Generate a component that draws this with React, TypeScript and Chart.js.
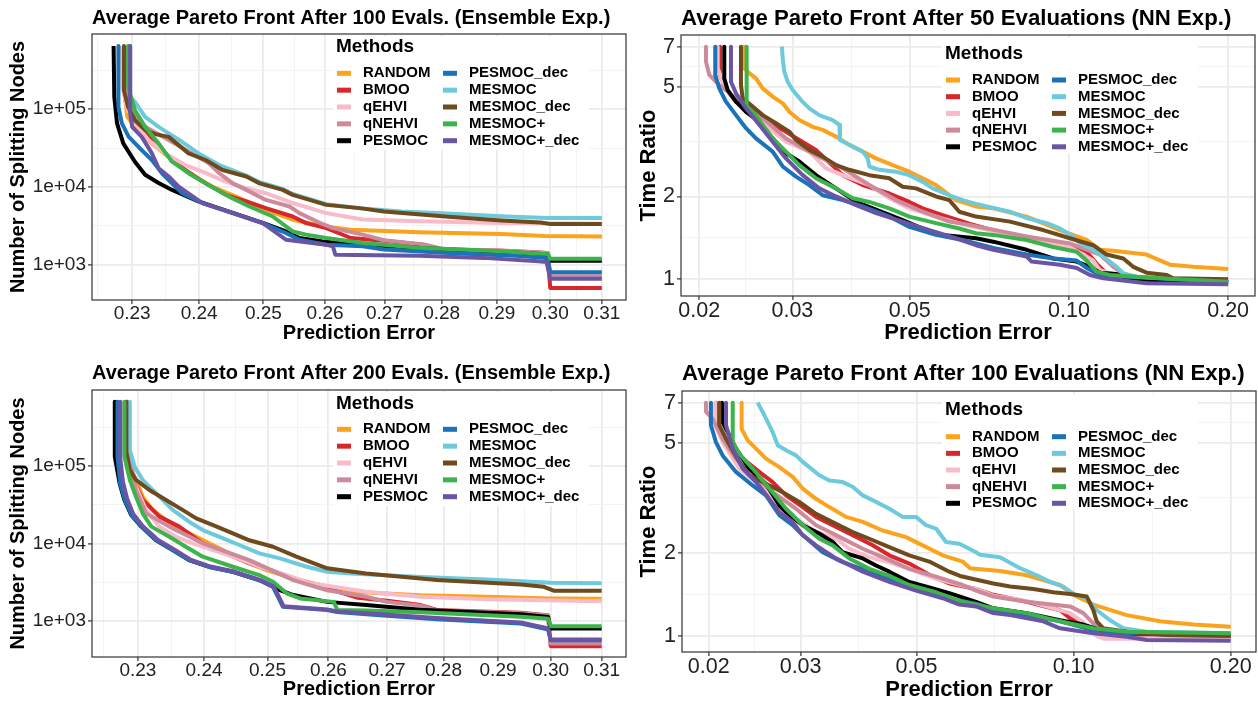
import React, { useEffect, useRef } from "react";
import { Chart, registerables } from "chart.js";

Chart.register(...registerables);

type Pt = [number, number];

const FONT = '"Liberation Sans", Arial, Helvetica, sans-serif';

const methods = ["RANDOM", "BMOO", "qEHVI", "qNEHVI", "PESMOC", "PESMOC_dec", "MESMOC", "MESMOC_dec", "MESMOC+", "MESMOC+_dec"];
const methodColors = ["#FBA31C", "#D7262C", "#F8BBC9", "#CC8A9B", "#000000", "#1A72B8", "#6DCADC", "#6E4A1C", "#3CB44B", "#6A55A5"];

// ---------- Ensemble, 100 evaluations ----------
const ens100RANDOM: Pt[] = [[0.2288,650000],[0.2289,150000],[0.2293,79600],[0.2309,51200],[0.2329,36300],[0.2354,24400],[0.2384,15000],[0.2420,10100],[0.2457,7500],[0.2504,5070],[0.2547,3780],[0.2600,3100],[0.2643,2800],[0.2760,2600],[0.2908,2480],[0.2990,2330],[0.3100,2300]];
const ens100BMOO: Pt[] = [[0.2289,650000],[0.2290,130000],[0.2304,72200],[0.2319,53800],[0.2329,40100],[0.2349,27000],[0.2379,16500],[0.2410,11100],[0.2441,7900],[0.2473,6500],[0.2504,5330],[0.2547,4160],[0.2569,3420],[0.2602,2950],[0.2643,2200],[0.2699,2030],[0.2768,1800],[0.2804,1560],[0.2908,1510],[0.2977,1430],[0.2995,1400],[0.3000,500],[0.3100,500]];
const ens100qEHVI: Pt[] = [[0.2285,650000],[0.2286,193000],[0.2292,107000],[0.2304,65600],[0.2324,40100],[0.2349,27000],[0.2379,19100],[0.2405,15700],[0.2441,11700],[0.2473,9600],[0.2504,8300],[0.2547,6200],[0.2602,4600],[0.2663,3800],[0.2760,3600],[0.2908,3420],[0.3100,3350]];
const ens100qNEHVI: Pt[] = [[0.2290,650000],[0.2291,160000],[0.2300,90000],[0.2319,59300],[0.2354,40100],[0.2389,27000],[0.2415,20100],[0.2431,15000],[0.2452,11100],[0.2473,9150],[0.2504,6800],[0.2542,5590],[0.2558,4600],[0.2591,3450],[0.2613,2950],[0.2663,2430],[0.2699,2060],[0.2768,1820],[0.2804,1580],[0.2908,1520],[0.2977,1440],[0.2995,1410],[0.3000,708],[0.3100,708]];
const ens100PESMOC: Pt[] = [[0.2273,650000],[0.2274,144000],[0.2278,65600],[0.2287,36300],[0.2304,21100],[0.2319,14300],[0.2339,11250],[0.2359,9150],[0.2399,6500],[0.2452,4640],[0.2499,3450],[0.2536,2670],[0.2558,2200],[0.2596,1990],[0.2663,1800],[0.2812,1560],[0.2960,1400],[0.2995,1340],[0.3000,1120],[0.3100,1120]];
const ens100PESMOCdec: Pt[] = [[0.2280,650000],[0.2280,107000],[0.2285,65600],[0.2295,44100],[0.2314,29800],[0.2329,22200],[0.2344,15000],[0.2359,11100],[0.2374,8300],[0.2405,6200],[0.2452,4600],[0.2499,3420],[0.2536,2550],[0.2558,2090],[0.2602,1800],[0.2663,1720],[0.2699,1560],[0.2812,1410],[0.2935,1300],[0.2988,1220],[0.2995,1200],[0.3000,796],[0.3100,796]];
const ens100MESMOC: Pt[] = [[0.2297,650000],[0.2297,144000],[0.2304,124000],[0.2319,79600],[0.2339,59300],[0.2354,48800],[0.2374,38100],[0.2399,27000],[0.2431,19100],[0.2473,14000],[0.2494,11500],[0.2531,9400],[0.2547,8100],[0.2602,6000],[0.2658,5300],[0.2729,4820],[0.2790,4600],[0.2908,4200],[0.2995,3970],[0.3100,3970]];
const ens100MESMOCdec: Pt[] = [[0.2288,650000],[0.2288,175000],[0.2294,107000],[0.2304,72200],[0.2319,53800],[0.2334,47800],[0.2354,44100],[0.2369,34500],[0.2384,27000],[0.2410,22200],[0.2436,16500],[0.2473,13600],[0.2494,11100],[0.2531,9150],[0.2547,7900],[0.2602,5870],[0.2658,5330],[0.2699,4820],[0.2812,4120],[0.2908,3700],[0.2982,3490],[0.3001,3320],[0.3100,3320]];
const ens100MESMOCplus: Pt[] = [[0.2294,650000],[0.2294,193000],[0.2304,97000],[0.2319,59300],[0.2339,36300],[0.2359,21100],[0.2384,15000],[0.2410,11100],[0.2446,7500],[0.2478,5590],[0.2515,4160],[0.2547,2670],[0.2569,2430],[0.2602,2200],[0.2663,1900],[0.2760,1650],[0.2908,1480],[0.2982,1380],[0.2996,1370],[0.3000,1190],[0.3100,1190]];
const ens100MESMOCplusdec: Pt[] = [[0.2297,650000],[0.2297,88900],[0.2300,59300],[0.2314,44100],[0.2329,27000],[0.2339,17400],[0.2354,13600],[0.2369,10100],[0.2405,6200],[0.2452,4600],[0.2499,3420],[0.2536,2090],[0.2602,1800],[0.2613,1720],[0.2617,1340],[0.2760,1300],[0.2876,1220],[0.2977,1100],[0.2993,1080],[0.3000,655],[0.3100,655]];

// ---------- Ensemble, 200 evaluations ----------
const ens200RANDOM: Pt[] = [[0.2283,670000],[0.2283,140000],[0.2293,80500],[0.2307,40200],[0.2322,27100],[0.2342,20100],[0.2367,14900],[0.2393,11700],[0.2419,9090],[0.2445,7100],[0.2471,5550],[0.2498,4550],[0.2542,3560],[0.2598,2770],[0.2638,2390],[0.2759,2150],[0.2879,2060],[0.3000,1960],[0.3100,1940]];
const ens200BMOO: Pt[] = [[0.2283,670000],[0.2283,130000],[0.2293,66000],[0.2307,36400],[0.2332,22200],[0.2362,16500],[0.2398,10060],[0.2434,7470],[0.2471,5550],[0.2498,4790],[0.2542,3560],[0.2598,2640],[0.2650,2000],[0.2700,1830],[0.2759,1610],[0.2788,1390],[0.2943,1280],[0.2987,1200],[0.2995,1190],[0.3000,476],[0.3100,476]];
const ens200qEHVI: Pt[] = [[0.2285,670000],[0.2285,150000],[0.2297,54100],[0.2312,27100],[0.2332,16500],[0.2357,12200],[0.2383,10060],[0.2414,8240],[0.2445,6760],[0.2487,5020],[0.2531,3920],[0.2570,3070],[0.2664,2390],[0.2759,2060],[0.2879,1910],[0.3100,1810]];
const ens200qNEHVI: Pt[] = [[0.2285,670000],[0.2285,140000],[0.2290,100000],[0.2297,49000],[0.2312,24500],[0.2347,16500],[0.2398,10060],[0.2471,6120],[0.2542,3380],[0.2598,2500],[0.2664,2060],[0.2700,1770],[0.2759,1580],[0.2788,1370],[0.2943,1260],[0.2987,1190],[0.2995,1180],[0.3000,516],[0.3100,516]];
const ens200PESMOC: Pt[] = [[0.2266,670000],[0.2266,132000],[0.2273,59800],[0.2280,36400],[0.2290,23300],[0.2305,16500],[0.2327,11000],[0.2352,8240],[0.2377,6120],[0.2408,5020],[0.2445,4330],[0.2487,3380],[0.2509,2770],[0.2520,2500],[0.2542,2170],[0.2598,1770],[0.2664,1610],[0.2759,1400],[0.2943,1230],[0.2990,1140],[0.2995,1130],[0.3000,805],[0.3100,805]];
const ens200PESMOCdec: Pt[] = [[0.2270,670000],[0.2270,130000],[0.2274,59000],[0.2281,36000],[0.2291,23000],[0.2306,16300],[0.2328,10900],[0.2353,8150],[0.2378,6050],[0.2409,4950],[0.2446,4280],[0.2488,3340],[0.2509,2770],[0.2517,2060],[0.2525,1530],[0.2598,1390],[0.2615,1310],[0.2664,1230],[0.2788,1060],[0.2943,934],[0.2987,805],[0.2995,780],[0.3000,569],[0.3100,569]];
const ens200MESMOC: Pt[] = [[0.2288,670000],[0.2288,161000],[0.2295,97900],[0.2307,66000],[0.2332,40200],[0.2352,27100],[0.2377,19100],[0.2398,14900],[0.2424,12200],[0.2455,9560],[0.2487,7470],[0.2520,6440],[0.2564,5020],[0.2598,4330],[0.2638,4120],[0.2759,3700],[0.2879,3450],[0.3000,3120],[0.3100,3070]];
const ens200MESMOCdec: Pt[] = [[0.2283,670000],[0.2283,150000],[0.2288,88800],[0.2297,66000],[0.2317,49000],[0.2342,36400],[0.2367,27100],[0.2388,21100],[0.2414,17300],[0.2445,13500],[0.2471,11000],[0.2509,9090],[0.2547,6760],[0.2598,4790],[0.2664,4120],[0.2788,3380],[0.2943,2970],[0.2987,2770],[0.3007,2460],[0.3100,2460]];
const ens200MESMOCplus: Pt[] = [[0.2280,670000],[0.2280,132000],[0.2288,66000],[0.2297,40200],[0.2307,24500],[0.2320,16500],[0.2347,12200],[0.2372,9090],[0.2398,6760],[0.2445,5020],[0.2487,3920],[0.2509,3210],[0.2531,2280],[0.2553,1960],[0.2609,1770],[0.2615,1390],[0.2664,1370],[0.2759,1300],[0.2943,1140],[0.2990,1080],[0.2995,1075],[0.3000,862],[0.3100,862]];
const ens200MESMOCplusdec: Pt[] = [[0.2274,670000],[0.2274,125000],[0.2278,62000],[0.2284,38000],[0.2293,24000],[0.2307,16800],[0.2330,11100],[0.2355,8300],[0.2380,6150],[0.2410,5050],[0.2447,4350],[0.2488,3400],[0.2510,2800],[0.2518,2100],[0.2526,1560],[0.2598,1410],[0.2615,1330],[0.2664,1260],[0.2788,1100],[0.2943,960],[0.2987,830],[0.2995,800],[0.3000,580],[0.3100,580]];

// ---------- NN, 50 evaluations ----------
const nn50RANDOM: Pt[] = [[0.0243,7.0],[0.0243,5.85],[0.02486,5.61],[0.0256,5.37],[0.02636,4.94],[0.02753,4.61],[0.02876,4.36],[0.0296,4.06],[0.03091,3.79],[0.03277,3.58],[0.03423,3.49],[0.03627,3.30],[0.03843,3.08],[0.04074,2.91],[0.04317,2.75],[0.04643,2.60],[0.04991,2.46],[0.0529,2.33],[0.05605,2.20],[0.06115,1.94],[0.06671,1.84],[0.07191,1.81],[0.08318,1.69],[0.09615,1.51],[0.108,1.39],[0.1144,1.28],[0.1213,1.27],[0.1402,1.23],[0.1552,1.13],[0.1717,1.11],[0.2,1.09]];
const nn50BMOO: Pt[] = [[0.0219,7.0],[0.0219,5.5],[0.0225,4.9],[0.0235,4.4],[0.02524,4.01],[0.02876,3.49],[0.03324,2.95],[0.03735,2.39],[0.04074,2.20],[0.04575,2.05],[0.04991,1.91],[0.0529,1.81],[0.05771,1.71],[0.065,1.59],[0.07733,1.45],[0.09339,1.37],[0.10043,1.33],[0.108,1.26],[0.1128,1.14],[0.1178,1.05],[0.13,1.0],[0.2,0.977]];
const nn50qEHVI: Pt[] = [[0.02167,7.0],[0.02167,5.85],[0.02214,5.22],[0.02313,4.61],[0.02486,4.06],[0.02713,3.54],[0.02917,3.16],[0.03229,2.91],[0.03372,2.68],[0.03472,2.53],[0.03735,2.39],[0.04193,2.20],[0.04575,1.97],[0.04991,1.81],[0.05605,1.69],[0.064,1.57],[0.08318,1.41],[0.10043,1.31],[0.1111,1.17],[0.1144,1.08],[0.12,1.05],[0.135,0.98],[0.2,0.977]];
const nn50qNEHVI: Pt[] = [[0.02059,7.0],[0.02059,6.18],[0.02089,5.53],[0.02182,5.08],[0.02347,4.55],[0.02597,3.95],[0.02917,3.25],[0.03229,2.91],[0.03735,2.53],[0.04193,2.20],[0.0471,1.94],[0.0529,1.76],[0.0594,1.62],[0.0645,1.58],[0.08318,1.43],[0.10043,1.35],[0.1144,1.23],[0.1213,1.11],[0.1267,1.05],[0.14,0.98],[0.2,0.977]];
const nn50PESMOC: Pt[] = [[0.0223,7.0],[0.0223,5.37],[0.02263,4.87],[0.02347,4.42],[0.02451,4.06],[0.02597,3.74],[0.02753,3.25],[0.02917,2.87],[0.03091,2.68],[0.03324,2.39],[0.03627,2.14],[0.03957,1.91],[0.04317,1.79],[0.04849,1.64],[0.0529,1.53],[0.05771,1.45],[0.06671,1.41],[0.07191,1.37],[0.08318,1.28],[0.09339,1.19],[0.1034,1.16],[0.1096,1.11],[0.1144,1.057],[0.1231,1.045],[0.13,1.0],[0.2,0.977]];
const nn50PESMOCdec: Pt[] = [[0.02144,7.0],[0.02144,5.53],[0.02182,4.94],[0.02246,4.42],[0.02347,3.95],[0.02451,3.54],[0.0256,3.25],[0.02753,2.91],[0.02876,2.57],[0.03047,2.36],[0.03229,2.20],[0.03423,2.02],[0.03735,1.94],[0.04074,1.84],[0.04575,1.69],[0.04991,1.55],[0.05605,1.45],[0.06296,1.39],[0.06671,1.35],[0.07191,1.30],[0.08318,1.23],[0.09339,1.19],[0.1034,1.17],[0.108,1.10],[0.1144,1.037],[0.1285,1.022],[0.2,0.98]];
const nn50MESMOC: Pt[] = [[0.02867,7.0],[0.02876,6.3],[0.02896,5.68],[0.02939,5.22],[0.03004,4.87],[0.03114,4.48],[0.03229,4.18],[0.03372,3.95],[0.03575,3.79],[0.0368,3.64],[0.0369,3.21],[0.03843,3.08],[0.04074,2.91],[0.04164,2.75],[0.04193,2.57],[0.0438,2.50],[0.0471,2.46],[0.04991,2.39],[0.0529,2.26],[0.05526,2.14],[0.0594,2.02],[0.06296,1.94],[0.06671,1.88],[0.07733,1.76],[0.08318,1.67],[0.09074,1.60],[0.09615,1.53],[0.1019,1.43],[0.1049,1.35],[0.1111,1.28],[0.1161,1.21],[0.1231,1.11],[0.1267,1.05],[0.1343,1.022],[0.153,1.008],[0.2,0.994]];
const nn50MESMOCdec: Pt[] = [[0.02398,7.0],[0.02398,5.08],[0.02416,4.55],[0.02524,4.24],[0.02636,3.95],[0.02793,3.69],[0.0296,3.44],[0.03047,3.21],[0.03229,2.95],[0.03423,2.79],[0.03627,2.60],[0.03843,2.50],[0.04193,2.39],[0.04575,2.33],[0.04849,2.17],[0.05138,2.14],[0.05605,2.00],[0.0594,1.94],[0.06204,1.76],[0.06671,1.69],[0.07733,1.62],[0.08941,1.51],[0.10043,1.41],[0.1111,1.33],[0.1178,1.23],[0.1267,1.19],[0.1323,1.11],[0.1402,1.057],[0.153,1.037],[0.1574,1.008],[0.2,1.0]];
const nn50MESMOCplus: Pt[] = [[0.02458,7.0],[0.02458,4.24],[0.02524,4.06],[0.02636,3.64],[0.02753,3.25],[0.02917,2.91],[0.03091,2.60],[0.03324,2.33],[0.03627,2.14],[0.03901,1.97],[0.04193,1.91],[0.04575,1.81],[0.04991,1.69],[0.05605,1.60],[0.06204,1.53],[0.06671,1.47],[0.07191,1.45],[0.08318,1.39],[0.09339,1.31],[0.1034,1.26],[0.108,1.17],[0.1128,1.066],[0.1195,1.037],[0.1486,1.008],[0.2,0.98]];
const nn50MESMOCplusdec: Pt[] = [[0.02296,7.0],[0.02296,5.22],[0.02347,4.74],[0.02451,4.18],[0.02597,3.64],[0.02753,3.16],[0.02917,2.75],[0.03137,2.39],[0.03372,2.14],[0.03627,2.0],[0.03957,1.86],[0.04317,1.74],[0.04849,1.62],[0.05444,1.51],[0.06115,1.41],[0.06671,1.33],[0.07191,1.28],[0.08318,1.21],[0.0850,1.16],[0.09615,1.13],[0.1034,1.10],[0.1096,1.037],[0.1161,1.008],[0.1402,0.967],[0.2,0.959]];

// ---------- NN, 100 evaluations ----------
const nn100RANDOM: Pt[] = [[0.02313,7.0],[0.02313,5.63],[0.02375,5.11],[0.02464,4.77],[0.02575,4.39],[0.02731,4.09],[0.02897,3.77],[0.03028,3.42],[0.03211,3.14],[0.03405,2.93],[0.03665,2.70],[0.03946,2.59],[0.04309,2.41],[0.04776,2.28],[0.05141,2.13],[0.05615,1.96],[0.06133,1.86],[0.06334,1.76],[0.0723,1.72],[0.08134,1.66],[0.0942,1.53],[0.1014,1.39],[0.1091,1.30],[0.1264,1.19],[0.1464,1.13],[0.1696,1.10],[0.2,1.08]];
const nn100BMOO: Pt[] = [[0.02065,7.0],[0.02065,5.8],[0.02159,5.04],[0.02324,4.39],[0.025,3.93],[0.02652,3.61],[0.02813,3.23],[0.03028,2.93],[0.03211,2.70],[0.03456,2.52],[0.03775,2.32],[0.04124,2.13],[0.04436,1.96],[0.04846,1.83],[0.05373,1.64],[0.05781,1.55],[0.06504,1.48],[0.07019,1.41],[0.08134,1.33],[0.0942,1.24],[0.09845,1.16],[0.1044,1.10],[0.1124,1.036],[0.1264,1.017],[0.2,1.01]];
const nn100qEHVI: Pt[] = [[0.02059,7.0],[0.02059,5.8],[0.02127,5.04],[0.02289,4.04],[0.02464,3.61],[0.02691,3.14],[0.0294,2.66],[0.03211,2.38],[0.03507,2.25],[0.03719,2.07],[0.04062,1.93],[0.04436,1.85],[0.04846,1.75],[0.05451,1.61],[0.06504,1.48],[0.07019,1.40],[0.08134,1.34],[0.09845,1.21],[0.1044,1.12],[0.1108,1.0],[0.1140,0.978],[0.2,0.978]];
const nn100qNEHVI: Pt[] = [[0.01976,7.0],[0.01976,6.5],[0.02036,6.12],[0.02127,5.18],[0.02256,4.39],[0.02428,3.82],[0.02652,3.32],[0.0294,2.89],[0.03211,2.52],[0.03507,2.32],[0.03946,2.07],[0.04309,1.93],[0.04846,1.75],[0.05451,1.64],[0.06133,1.53],[0.06504,1.46],[0.07019,1.39],[0.08134,1.33],[0.09845,1.28],[0.1044,1.21],[0.1091,1.11],[0.1140,1.036],[0.13,1.01],[0.2,1.005]];
const nn100PESMOC: Pt[] = [[0.02121,7.0],[0.02121,6.0],[0.02159,5.63],[0.02256,4.77],[0.02392,4.04],[0.02575,3.56],[0.02731,2.97],[0.02813,2.81],[0.03028,2.52],[0.03258,2.35],[0.03456,2.19],[0.03612,2.01],[0.03946,1.91],[0.04184,1.80],[0.04436,1.71],[0.04846,1.57],[0.05293,1.50],[0.05781,1.43],[0.06504,1.33],[0.07019,1.26],[0.08134,1.21],[0.0942,1.14],[0.1044,1.10],[0.1124,1.051],[0.12,1.02],[0.2,1.008]];
const nn100PESMOCdec: Pt[] = [[0.0202,7.0],[0.0202,5.8],[0.02065,5.04],[0.02127,4.51],[0.02256,3.93],[0.02428,3.51],[0.02575,3.23],[0.02731,2.74],[0.02897,2.52],[0.03028,2.32],[0.03307,2.01],[0.03612,1.85],[0.04062,1.71],[0.04436,1.61],[0.04991,1.48],[0.05615,1.38],[0.06504,1.31],[0.07019,1.24],[0.08134,1.19],[0.0942,1.13],[0.1091,1.051],[0.12,1.02],[0.2,1.017]];
const nn100MESMOC: Pt[] = [[0.02483,7.0],[0.02538,6.48],[0.02595,5.96],[0.02652,5.48],[0.02712,4.91],[0.02813,4.71],[0.0294,4.51],[0.03028,4.27],[0.03117,4.09],[0.03258,3.82],[0.03405,3.66],[0.03612,3.61],[0.03775,3.47],[0.03946,3.23],[0.04184,3.06],[0.04436,2.89],[0.04707,2.70],[0.04991,2.70],[0.05216,2.52],[0.05451,2.45],[0.05697,2.19],[0.06042,2.16],[0.06504,2.01],[0.0662,1.97],[0.0723,1.93],[0.07897,1.76],[0.085,1.66],[0.09013,1.57],[0.09558,1.51],[0.0999,1.42],[0.106,1.37],[0.11076,1.24],[0.11744,1.14],[0.12454,1.066],[0.13808,1.036],[0.2,1.023]];
const nn100MESMOCdec: Pt[] = [[0.02096,7.0],[0.02096,5.8],[0.02159,5.18],[0.02289,4.27],[0.02392,3.82],[0.02575,3.56],[0.02772,3.32],[0.02983,3.06],[0.03211,2.77],[0.03507,2.55],[0.03775,2.38],[0.04062,2.25],[0.04436,2.10],[0.04846,1.96],[0.05293,1.86],[0.05781,1.71],[0.0606,1.65],[0.07019,1.55],[0.07556,1.51],[0.08374,1.48],[0.09146,1.44],[0.09845,1.42],[0.106,1.39],[0.10911,1.24],[0.11076,1.13],[0.11403,1.066],[0.12642,1.036],[0.15079,1.008],[0.2,1.0]];
const nn100MESMOCplus: Pt[] = [[0.02224,7.0],[0.02224,5.04],[0.02289,4.57],[0.02428,4.04],[0.02613,3.42],[0.02813,2.89],[0.03028,2.52],[0.03258,2.25],[0.03456,2.13],[0.03719,1.91],[0.04062,1.75],[0.04436,1.65],[0.04846,1.53],[0.05451,1.44],[0.06133,1.33],[0.06504,1.30],[0.07019,1.26],[0.08134,1.21],[0.08883,1.16],[0.09845,1.11],[0.10911,1.066],[0.12642,1.036],[0.2,1.023]];
const nn100MESMOCplusdec: Pt[] = [[0.02159,7.0],[0.02159,5.8],[0.02224,4.77],[0.02324,4.04],[0.02464,3.61],[0.02613,3.14],[0.02731,2.81],[0.02897,2.59],[0.03028,2.32],[0.03211,2.13],[0.03507,1.91],[0.03946,1.71],[0.04436,1.57],[0.04991,1.46],[0.05615,1.37],[0.06042,1.30],[0.06504,1.28],[0.07019,1.21],[0.07556,1.19],[0.08751,1.13],[0.0942,1.066],[0.10911,1.023],[0.12642,0.994],[0.13808,0.967],[0.2,0.962]];

// ---------- tick values / labels ----------
const ensXMajor = [0.23, 0.24, 0.25, 0.26, 0.27, 0.28, 0.29, 0.3, 0.31];
const ensXLabels = ["0.23", "0.24", "0.25", "0.26", "0.27", "0.28", "0.29", "0.30", "0.31"];
const ensXMinor = [0.22494, 0.23495, 0.24495, 0.25495, 0.26495, 0.27495, 0.28496, 0.29496, 0.30496];
const ensYMajor = [1e3, 1e4, 1e5];
const ensYLabels = ["1e+03", "1e+04", "1e+05"];
const ensYMinor = [3162.3, 31623, 316228];
const nnXMajor = [0.02, 0.03, 0.05, 0.1, 0.2];
const nnXLabels = ["0.02", "0.03", "0.05", "0.10", "0.20"];
const nnXMinor = [0.024495, 0.03873, 0.070711, 0.141421];
const nnYMajor = [1, 2, 5, 7];
const nnYLabels = ["1", "2", "5", "7"];
const nnYMinor = [1.41421, 3.16228, 5.91608];

const ens100Series = [ens100RANDOM, ens100BMOO, ens100qEHVI, ens100qNEHVI, ens100PESMOC, ens100PESMOCdec, ens100MESMOC, ens100MESMOCdec, ens100MESMOCplus, ens100MESMOCplusdec];
const ens200Series = [ens200RANDOM, ens200BMOO, ens200qEHVI, ens200qNEHVI, ens200PESMOC, ens200PESMOCdec, ens200MESMOC, ens200MESMOCdec, ens200MESMOCplus, ens200MESMOCplusdec];
const nn50Series = [nn50RANDOM, nn50BMOO, nn50qEHVI, nn50qNEHVI, nn50PESMOC, nn50PESMOCdec, nn50MESMOC, nn50MESMOCdec, nn50MESMOCplus, nn50MESMOCplusdec];
const nn100Series = [nn100RANDOM, nn100BMOO, nn100qEHVI, nn100qNEHVI, nn100PESMOC, nn100PESMOCdec, nn100MESMOC, nn100MESMOCdec, nn100MESMOCplus, nn100MESMOCplusdec];

const ensFonts = { title: 20, axisTitle: 20, axisTitleLH: 1.2, tick: 19 };
const nnFonts = { title: 22.2, axisTitle: 22, axisTitleLH: 1.0, tick: 21.5 };

const panels: any[] = [
  {
    title: "Average Pareto Front After 100 Evals. (Ensemble Exp.)", yTitle: "Number of Splitting Nodes", series: ens100Series,
    x: { min: 0.2242, max: 0.3148, major: ensXMajor, labels: ensXLabels, minor: ensXMinor },
    y: { min: 350, max: 930000, major: ensYMajor, labels: ensYLabels, minor: ensYMinor },
    pos: { left: 0, top: 0, w: 630, h: 350 }, area: { left: 92, top: 34, right: 626, bottom: 300 },
    fonts: ensFonts, xTitlePad: 5, xTickPad: 0, yTitlePad: 6, titleY: 18,
    legend: { L: 245, titleDy: 13, row0: 39.3, step: 16.85, bgTop: 2, bgBottom: 116 },
  },
  {
    title: "Average Pareto Front After 50 Evaluations (NN Exp.)", yTitle: "Time Ratio", series: nn50Series,
    x: { min: 0.01847, max: 0.2248, major: nnXMajor, labels: nnXLabels, minor: nnXMinor },
    y: { min: 0.8697, max: 7.72, major: nnYMajor, labels: nnYLabels, minor: nnYMinor },
    pos: { left: 630, top: 0, w: 628, h: 350 }, area: { left: 51, top: 35, right: 625, bottom: 296 },
    fonts: nnFonts, xTitlePad: 6, xTickPad: 0, yTitlePad: 8, titleY: 18.5,
    legend: { L: 265, titleDy: 18.3, row0: 45, step: 16.7, bgTop: 3, bgBottom: 118 },
  },
  {
    title: "Average Pareto Front After 200 Evals. (Ensemble Exp.)", yTitle: "Number of Splitting Nodes", series: ens200Series,
    x: { min: 0.2233, max: 0.3149, major: ensXMajor, labels: ensXLabels, minor: ensXMinor },
    y: { min: 345, max: 950000, major: ensYMajor, labels: ensYLabels, minor: ensYMinor },
    pos: { left: 0, top: 350, w: 630, h: 351 }, area: { left: 92, top: 40, right: 626, bottom: 307 },
    fonts: ensFonts, xTitlePad: 0, xTickPad: 0, yTitlePad: 6, titleY: 23,
    legend: { L: 245, titleDy: 13.3, row0: 39.3, step: 16.85, bgTop: 2, bgBottom: 116 },
  },
  {
    title: "Average Pareto Front After 100 Evaluations (NN Exp.)", yTitle: "Time Ratio", series: nn100Series,
    x: { min: 0.01778, max: 0.2236, major: nnXMajor, labels: nnXLabels, minor: nnXMinor },
    y: { min: 0.875, max: 7.716, major: nnYMajor, labels: nnYLabels, minor: nnYMinor },
    pos: { left: 630, top: 350, w: 628, h: 351 }, area: { left: 52, top: 41, right: 626, bottom: 302 },
    fonts: nnFonts, xTitlePad: 0, xTickPad: 0, yTitlePad: 8, titleY: 24,
    legend: { L: 264, titleDy: 18.3, row0: 45.7, step: 16.65, bgTop: 3, bgBottom: 118 },
  },
];

function buildTicks(ax: any) {
  return [
    ...ax.major.map((v: number) => ({ value: v, major: true })),
    ...ax.minor.map((v: number) => ({ value: v, major: false })),
  ]
    .filter((t) => t.value >= ax.min && t.value <= ax.max)
    .sort((a, b) => a.value - b.value);
}

function labelFor(ax: any, v: number) {
  let best = 0;
  for (let i = 1; i < ax.major.length; i++) {
    if (Math.abs(ax.major[i] - v) < Math.abs(ax.major[best] - v)) best = i;
  }
  return ax.labels[best];
}

const gridColor = (c: any) => (c.tick && c.tick.major ? "#EBEBEB" : "#F3F3F3");
const gridWidth = (c: any) => (c.tick && c.tick.major ? 1.8 : 0.9);
const tickMarkColor = (c: any) => (c.tick && c.tick.major ? "#333333" : "rgba(0,0,0,0)");

const decorPlugin = {
  id: "decor",
  afterDatasetsDraw(chart: any, _args: any, opts: any) {
    const { ctx, chartArea: a } = chart;
    const lg = opts.legend;
    const L = a.left + lg.L;
    const T = a.top;
    ctx.save();
    ctx.fillStyle = "#ffffff";
    ctx.fillRect(L - 4, T + lg.bgTop, 256, lg.bgBottom - lg.bgTop);
    ctx.textBaseline = "middle";
    ctx.textAlign = "left";
    ctx.fillStyle = "#000000";
    ctx.font = `bold 19px ${FONT}`;
    ctx.fillText("Methods", L - 1, T + lg.titleDy);
    ctx.font = `bold 15px ${FONT}`;
    methods.forEach((m, i) => {
      const col = Math.floor(i / 5);
      const row = i % 5;
      const x = L + col * 106;
      const y = T + lg.row0 + row * lg.step;
      ctx.fillStyle = methodColors[i];
      ctx.fillRect(x, y - 2.5, 14, 5);
      ctx.fillStyle = "#000000";
      ctx.fillText(m, x + 26, y);
    });
    ctx.restore();
  },
  afterDraw(chart: any, _args: any, opts: any) {
    const { ctx, chartArea: a } = chart;
    ctx.save();
    ctx.strokeStyle = "#333333";
    ctx.lineWidth = 1.2;
    ctx.strokeRect(a.left, a.top, a.right - a.left, a.bottom - a.top);
    ctx.fillStyle = "#000000";
    ctx.font = `bold ${opts.titleSize}px ${FONT}`;
    ctx.textBaseline = "middle";
    ctx.textAlign = "left";
    ctx.fillText(opts.title, a.left, opts.titleY);
    ctx.restore();
  },
};

function makeAxis(spec: any, which: "x" | "y") {
  const ax = spec[which];
  const isX = which === "x";
  const f = spec.fonts;
  return {
    type: "logarithmic",
    position: isX ? "bottom" : "left",
    min: ax.min,
    max: ax.max,
    bounds: "data",
    afterBuildTicks: (s: any) => {
      s.ticks = buildTicks(ax);
    },
    afterFit: (s: any) => {
      if (isX) s.height = spec.pos.h - spec.area.bottom;
      else s.width = spec.area.left;
    },
    ticks: {
      autoSkip: false,
      maxRotation: 0,
      minRotation: 0,
      padding: isX ? spec.xTickPad : 2,
      color: "#222222",
      font: { size: f.tick, family: FONT, lineHeight: 1 },
      callback: (v: number, i: number, ticks: any[]) => (ticks[i] && ticks[i].major ? labelFor(ax, v) : ""),
    },
    grid: {
      color: gridColor,
      lineWidth: gridWidth,
      drawTicks: true,
      tickLength: 4,
      tickColor: tickMarkColor,
      tickWidth: 1.2,
    },
    border: { display: false },
    title: {
      display: true,
      text: isX ? "Prediction Error" : spec.yTitle,
      color: "#000000",
      font: { size: f.axisTitle, weight: "bold", family: FONT, lineHeight: f.axisTitleLH },
      padding: isX ? { top: 0, bottom: spec.xTitlePad } : { top: spec.yTitlePad, bottom: 0 },
    },
  };
}

function buildConfig(spec: any): any {
  return {
    type: "scatter",
    data: {
      datasets: spec.series.map((pts: Pt[], i: number) => ({
        label: methods[i],
        data: pts.map(([x, y]) => ({ x, y })),
        showLine: true,
        borderColor: methodColors[i],
        backgroundColor: methodColors[i],
        borderWidth: 4,
        borderJoinStyle: "round",
        borderCapStyle: "butt",
        pointRadius: 0,
        pointHoverRadius: 0,
        tension: 0,
        fill: false,
        order: methods.length - i,
      })),
    },
    options: {
      animation: false,
      responsive: false,
      maintainAspectRatio: false,
      devicePixelRatio: 1,
      events: [],
      layout: {
        autoPadding: false,
        padding: { left: 0, top: spec.area.top, right: spec.pos.w - spec.area.right, bottom: 0 },
      },
      scales: {
        x: makeAxis(spec, "x"),
        y: makeAxis(spec, "y"),
      },
      plugins: {
        legend: { display: false },
        tooltip: { enabled: false },
        title: { display: false },
        decor: { title: spec.title, titleY: spec.titleY, titleSize: spec.fonts.title, legend: spec.legend },
      },
    },
    plugins: [decorPlugin],
  };
}

function Panel({ spec }: { spec: any }) {
  const ref = useRef<HTMLCanvasElement | null>(null);
  useEffect(() => {
    const canvas = ref.current;
    if (!canvas) return;
    const chart = new Chart(canvas, buildConfig(spec));
    return () => chart.destroy();
  }, [spec]);
  return (
    <canvas
      ref={ref}
      width={spec.pos.w}
      height={spec.pos.h}
      style={{ position: "absolute", left: spec.pos.left, top: spec.pos.top, width: spec.pos.w, height: spec.pos.h }}
    />
  );
}

export default function App() {
  return (
    <div style={{ position: "absolute", left: 0, top: 0, width: 1258, height: 701, background: "#ffffff", overflow: "hidden" }}>
      {panels.map((p, i) => (
        <Panel key={i} spec={p} />
      ))}
    </div>
  );
}
